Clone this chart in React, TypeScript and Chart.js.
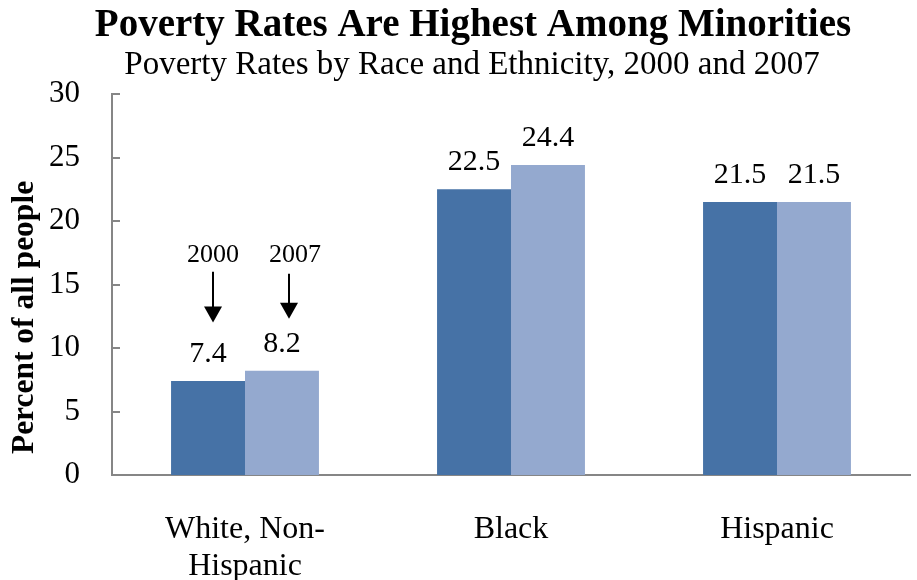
import React, { useEffect, useRef } from "react";
import { Chart, registerables } from "chart.js";

Chart.register(...registerables);

const titleText = "Poverty Rates Are Highest Among Minorities";
const subtitleText = "Poverty Rates by Race and Ethnicity, 2000 and 2007";
const yAxisTitle = "Percent of all people";
const categories: string[][] = [["White, Non-", "Hispanic"], ["Black"], ["Hispanic"]];
const seriesNames = ["2000", "2007"];
const values2000 = [7.4, 22.5, 21.5];
const values2007 = [8.2, 24.4, 21.5];
const yTicks = [0, 5, 10, 15, 20, 25, 30];
// annotation: label above arrow pointing to the first category's bars
const annotationYears = ["2000", "2007"];
const annotationTextValue = [17.3, 17.3];
const arrowTopValue = [16.0, 15.85];
const arrowTipValue = [12.0, 12.3];

const FONT = "'Liberation Serif', 'Times New Roman', serif";
const AXIS_GRAY = "#868686";
const COLORS = ["#4672A6", "#94A9CF"];

const titlesPlugin = {
  id: "titles",
  afterDraw(chart: any) {
    const { ctx } = chart;
    ctx.save();
    ctx.fillStyle = "#000";
    ctx.textAlign = "center";
    ctx.textBaseline = "alphabetic";
    ctx.font = `bold 39px ${FONT}`;
    ctx.fillText(titleText, 473, 36);
    ctx.font = `33px ${FONT}`;
    ctx.fillText(subtitleText, 472, 74);
    ctx.translate(32.5, 317.5);
    ctx.rotate(-Math.PI / 2);
    ctx.font = `bold 31.5px ${FONT}`;
    ctx.fillText(yAxisTitle, 0, 0);
    ctx.restore();
  },
};

const innerTicksPlugin = {
  id: "innerTicks",
  afterDraw(chart: any) {
    const { ctx, chartArea } = chart;
    const y = chart.scales.y;
    ctx.save();
    ctx.strokeStyle = AXIS_GRAY;
    ctx.lineWidth = 2;
    y.ticks.forEach((_t: any, i: number) => {
      const py = Math.round(y.getPixelForTick(i));
      ctx.beginPath();
      ctx.moveTo(chartArea.left, py);
      ctx.lineTo(chartArea.left + 8, py);
      ctx.stroke();
    });
    ctx.restore();
  },
};

const valueLabelsPlugin = {
  id: "valueLabels",
  afterDatasetsDraw(chart: any) {
    const { ctx } = chart;
    ctx.save();
    ctx.font = `30px ${FONT}`;
    ctx.fillStyle = "#000";
    ctx.textAlign = "center";
    ctx.textBaseline = "alphabetic";
    chart.data.datasets.forEach((ds: any, di: number) => {
      const meta = chart.getDatasetMeta(di);
      meta.data.forEach((el: any, i: number) => {
        ctx.fillText(Number(ds.data[i]).toFixed(1), el.x, el.y - 19);
      });
    });
    ctx.restore();
  },
};

const annotationPlugin = {
  id: "yearArrows",
  afterDatasetsDraw(chart: any) {
    const { ctx } = chart;
    const y = chart.scales.y;
    const textOffsets = [5, 13];
    const arrowOffsets = [5, 7];
    ctx.save();
    ctx.fillStyle = "#000";
    ctx.strokeStyle = "#000";
    annotationYears.forEach((label, di) => {
      const el = chart.getDatasetMeta(di).data[0];
      const tx = el.x + textOffsets[di];
      const ax = Math.round(el.x + arrowOffsets[di]);
      ctx.font = `26px ${FONT}`;
      ctx.textAlign = "center";
      ctx.textBaseline = "middle";
      ctx.fillText(label, tx, y.getPixelForValue(annotationTextValue[di]));
      const top = y.getPixelForValue(arrowTopValue[di]);
      const tip = y.getPixelForValue(arrowTipValue[di]);
      const headH = 16;
      ctx.lineWidth = 2;
      ctx.beginPath();
      ctx.moveTo(ax, top);
      ctx.lineTo(ax, tip - headH + 1);
      ctx.stroke();
      ctx.beginPath();
      ctx.moveTo(ax - 9, tip - headH);
      ctx.lineTo(ax + 9, tip - headH);
      ctx.lineTo(ax, tip);
      ctx.closePath();
      ctx.fill();
    });
    ctx.restore();
  },
};

export default function App() {
  const ref = useRef<HTMLCanvasElement>(null);
  useEffect(() => {
    document.body.style.margin = "0";
    Chart.defaults.font.family = FONT;
    Chart.defaults.color = "#000";
    const chart = new Chart(ref.current!, {
      type: "bar",
      data: {
        labels: categories,
        datasets: [
          { label: seriesNames[0], data: values2000, backgroundColor: COLORS[0], categoryPercentage: 0.556, barPercentage: 1 },
          { label: seriesNames[1], data: values2007, backgroundColor: COLORS[1], categoryPercentage: 0.556, barPercentage: 1 },
        ],
      },
      options: {
        animation: false,
        responsive: false,
        devicePixelRatio: 1,
        layout: { padding: { left: 0, right: 7, top: 94, bottom: 0 } },
        plugins: {
          legend: { display: false },
          tooltip: { enabled: false },
          title: { display: false },
        },
        scales: {
          x: {
            grid: { display: false, drawTicks: false },
            border: { display: true, color: AXIS_GRAY, width: 2 },
            ticks: { font: { size: 32, family: FONT, lineHeight: 1.156 }, color: "#000", padding: 36, maxRotation: 0 },
            afterFit(scale: any) {
              scale.height = 105;
            },
          },
          y: {
            min: 0,
            max: 30,
            afterBuildTicks(scale: any) {
              scale.ticks = yTicks.map((v) => ({ value: v }));
            },
            grid: { display: false, drawTicks: false },
            border: { display: true, color: AXIS_GRAY, width: 2 },
            ticks: { font: { size: 31, family: FONT }, color: "#000", padding: 32 },
            afterFit(scale: any) {
              scale.width = 112;
            },
          },
        },
      },
      plugins: [titlesPlugin, innerTicksPlugin, valueLabelsPlugin, annotationPlugin],
    });
    return () => chart.destroy();
  }, []);
  return (
    <div style={{ width: 917, height: 580 }}>
      <canvas ref={ref} width={917} height={580} />
    </div>
  );
}
